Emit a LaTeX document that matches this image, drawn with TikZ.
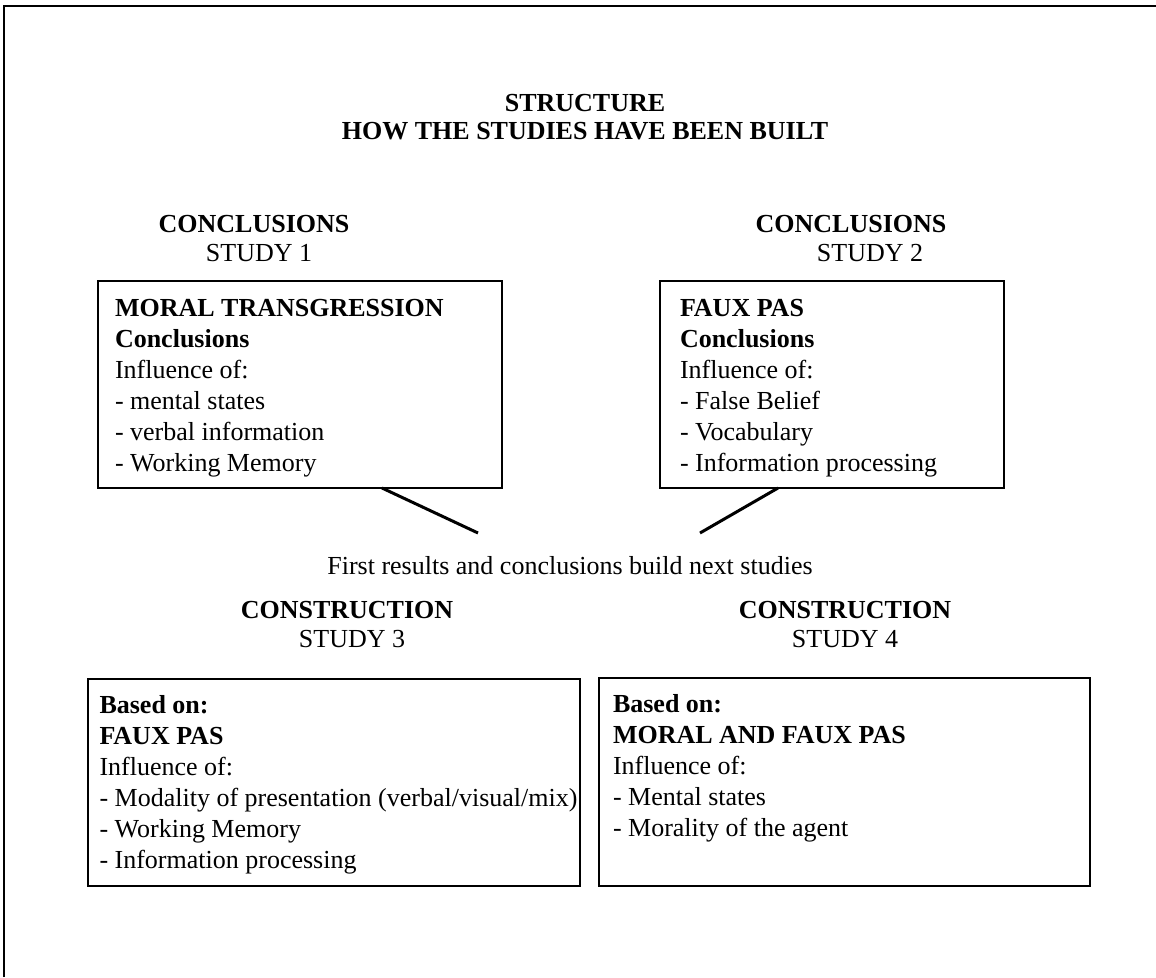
\documentclass[tikz,border=0pt]{standalone}
\usepackage{fontspec}
\setmainfont{Liberation Serif}
\usetikzlibrary{calc}
\begin{document}
\begin{tikzpicture}[x=1pt, y=-1pt,
  every node/.style={inner sep=0pt, outer sep=0pt, font=\fontsize{26}{31}\selectfont},
  frameline/.style={line width=2pt},
  card/.style={draw, line width=2pt, anchor=north west, rectangle},
  body/.style={align=left, anchor=north west},
  headbf/.style={font=\fontsize{26}{31}\selectfont\bfseries},
  headrm/.style={font=\fontsize{26}{31}\selectfont},
  link/.style={line width=3pt}
]
\useasboundingbox (0,0) rectangle (1156,977);

% page frame (left and top edges)
\draw[frameline] (4,977) -- (4,6) -- (1156,6);

% title
\node[headbf] (t1) at (585,103) {STRUCTURE};
\node[headbf] (t2) at (585,131) {HOW THE STUDIES HAVE BEEN BUILT};

% headings over the upper boxes
\node[headbf] (h1) at (254,224) {CONCLUSIONS};
\node[headrm] (s1) at (259,253) {STUDY 1};
\node[headbf] (h2) at (851,224) {CONCLUSIONS};
\node[headrm] (s2) at (870,253) {STUDY 2};

% upper boxes
\node[card, minimum width=404pt, minimum height=207pt] (b1) at (98,281) {};
\node[body] (x1) at (115,299) {\textbf{MORAL TRANSGRESSION}\\\textbf{Conclusions}\\Influence of:\\- mental states\\- verbal information\\- Working Memory};

\node[card, minimum width=344pt, minimum height=207pt] (b2) at (660,281) {};
\node[body] (x2) at (680,299) {\textbf{FAUX PAS}\\\textbf{Conclusions}\\Influence of:\\- False Belief\\- Vocabulary\\- Information processing};

% connectors towards the joining caption
\coordinate (e1) at (478,533);
\coordinate (e2) at (700,533);
\draw[link] ($(b1.south west)+(284,0)$) -- (e1);
\draw[link] ($(b2.south west)+(118,0)$) -- (e2);

\node (cap) at (570,566) {First results and conclusions build next studies};

% headings over the lower boxes
\node[headbf] (h3) at (347,610) {CONSTRUCTION};
\node[headrm] (s3) at (352,639) {STUDY 3};
\node[headbf] (h4) at (845,610) {CONSTRUCTION};
\node[headrm] (s4) at (845,639) {STUDY 4};

% lower boxes
\node[card, minimum width=492.5pt, minimum height=207.5pt] (b3) at (87.5,678.5) {};
\node[body] (x3) at (99.5,695) {\textbf{Based on:}\\\textbf{FAUX PAS}\\Influence of:\\- Modality of presentation (verbal/visual/mix)\\- Working Memory\\- Information processing};

\node[card, minimum width=491pt, minimum height=208pt] (b4) at (599,678) {};
\node[body] (x4) at (613,694.5) {\textbf{Based on:}\\\textbf{MORAL AND FAUX PAS}\\Influence of:\\- Mental states\\- Morality of the agent};
\end{tikzpicture}
\end{document}
